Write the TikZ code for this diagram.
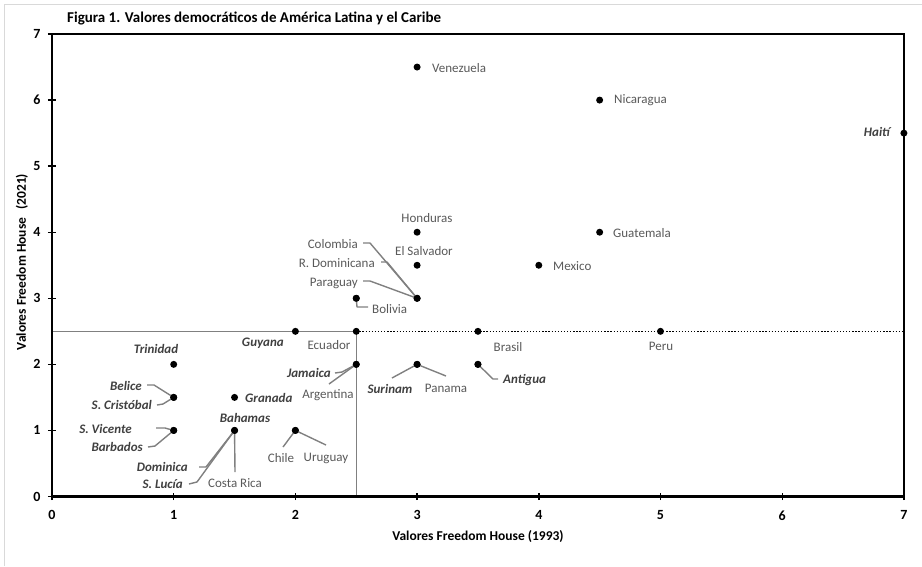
\documentclass[tikz,border=0pt]{standalone}
\usepackage{fontspec}
\setmainfont{Carlito}
\definecolor{lab}{HTML}{595959}
\definecolor{labb}{HTML}{404040}
\definecolor{lead}{HTML}{808080}
\definecolor{frm}{HTML}{D9D9D9}
\begin{document}
\begin{tikzpicture}[x=1pt,y=-1pt,
  dot/.style={circle,fill=black,inner sep=0pt,minimum size=7pt},
  lbl/.style={text=lab,font=\fontsize{13}{15}\selectfont,inner sep=0pt},
  lblb/.style={text=labb,font=\fontsize{13}{15}\selectfont\bfseries\itshape,inner sep=0pt},
  leader/.style={draw=lead,line width=1.4pt,line join=round},
  tlab/.style={font=\fontsize{13.5}{15}\selectfont\bfseries,inner sep=0pt},
  ticklab/.style={font=\fontsize{14}{16}\selectfont\bfseries,inner sep=0pt},
  axis/.style={line width=2.2pt,line cap=rect},
  tick/.style={line width=1.4pt}]
\useasboundingbox (0,0) rectangle (922,566);
% light frame
\draw[frm,line width=1.2pt] (4.5,566) -- (4.5,4.5) -- (922,4.5);
% title and axis labels
\node[tlab,anchor=west,font=\fontsize{15}{17}\selectfont\bfseries] (title) at (67,18) {Figura 1. Valores democráticos de América Latina y el Caribe};
\node[tlab,rotate=90] (ylab) at (22,262) {Valores Freedom House\hspace{0.6em}(2021)};
\node[tlab] (xlab) at (478,537) {Valores Freedom House (1993)};
\begin{scope}[shift={(52,496.5)},x=121.7pt,y=66.07pt]
  % reference lines
  \draw[lead,line width=1pt] (0,2.5) -- (2.5,2.5) -- (2.5,0);
  \draw[black,line width=1.3pt,dash pattern=on 1.3pt off 1.8pt] (2.5,2.5) -- (7,2.5);
  % frame
  \draw[black,line width=1.6pt] (0,7) -- (7,7) -- (7,0);
  \draw[axis] (0,7) -- (0,0) -- (7,0);
  \foreach \i in {0,...,6} \draw[tick] (-0.033,\i) -- (0.033,\i);
  \draw[tick] (-0.033,7) -- (0,7);
  \foreach \i in {1,...,6} \draw[tick] (\i,-0.053) -- (\i,0.053);
  \draw[tick] (0,-0.053) -- (0,0);
  \draw[tick] (7,-0.053) -- (7,0);
  \foreach \i in {0,...,7} {
    \node[ticklab] (xt\i) at (\i,-0.285) {\i};
    \node[ticklab] (yt\i) at (-0.123,\i) {\i};
  }
  % data points
  \node[dot] (ven) at (3,6.5) {};
  \node[dot] (nic) at (4.5,6) {};
  \node[dot] (hai) at (7,5.5) {};
  \node[dot] (hon) at (3,4) {};
  \node[dot] (gua) at (4.5,4) {};
  \node[dot] (els) at (3,3.5) {};
  \node[dot] (mex) at (4,3.5) {};
  \node[dot] (col) at (3,3) {};
  \node[dot] (bol) at (2.5,3) {};
  \node[dot] (guy) at (2,2.5) {};
  \node[dot] (ecu) at (2.5,2.5) {};
  \node[dot] (bra) at (3.5,2.5) {};
  \node[dot] (per) at (5,2.5) {};
  \node[dot] (tri) at (1,2) {};
  \node[dot] (jam) at (2.5,2) {};
  \node[dot] (sur) at (3,2) {};
  \node[dot] (ant) at (3.5,2) {};
  \node[dot] (bel) at (1,1.5) {};
  \node[dot] (gra) at (1.5,1.5) {};
  \node[dot] (svi) at (1,1) {};
  \node[dot] (bah) at (1.5,1) {};
  \node[dot] (chi) at (2,1) {};
\end{scope}
% labels
\node[lbl,anchor=west] (lven) at (432,68) {Venezuela};
\node[lbl,anchor=west] (lnic) at (614,100) {Nicaragua};
\node[lblb,anchor=east] (lhai) at (890,132) {Haití};
\node[lbl] (lhon) at (427,218) {Honduras};
\node[lbl] (lels) at (424,251) {El Salvador};
\node[lbl,anchor=west] (lgua) at (613,233) {Guatemala};
\node[lbl,anchor=west] (lmex) at (553,266) {Mexico};
\node[lbl,anchor=east] (lcol) at (358,244) {Colombia};
\node[lbl,anchor=east] (lrdo) at (375,263) {R. Dominicana};
\node[lbl,anchor=east] (lpar) at (358,283) {Paraguay};
\node[lbl,anchor=west] (lbol) at (372,309) {Bolivia};
\node[lblb,anchor=east] (lguy) at (284,343) {Guyana};
\node[lbl] (lecu) at (329,345) {Ecuador};
\node[lbl] (lbra) at (508,347) {Brasil};
\node[lbl] (lper) at (661,346) {Peru};
\node[lblb] (ltri) at (156,349) {Trinidad};
\node[lblb,anchor=east] (ljam) at (331,373) {Jamaica};
\node[lbl] (larg) at (328,395) {Argentina};
\node[lblb] (lsur) at (390,389) {Surinam};
\node[lbl] (lpan) at (446,388) {Panama};
\node[lblb,anchor=west] (lant) at (503,380) {Antigua};
\node[lblb,anchor=east] (lbel) at (142,386) {Belice};
\node[lblb,anchor=east] (lscr) at (152,405) {S. Cristóbal};
\node[lblb,anchor=west] (lgra) at (245,398) {Granada};
\node[lblb,anchor=east] (lsvi) at (132,429) {S. Vicente};
\node[lblb,anchor=east] (lbar) at (143,447) {Barbados};
\node[lblb] (lbah) at (245,418) {Bahamas};
\node[lblb,anchor=east] (ldom) at (188,467) {Dominica};
\node[lblb,anchor=east] (lslu) at (183,484) {S. Lucía};
\node[lbl] (lcri) at (235,483) {Costa Rica};
\node[lbl] (lchi) at (281,458) {Chile};
\node[lbl] (luru) at (326,458) {Uruguay};
% leader coordinates
\coordinate (c1) at (363,243); \coordinate (c2) at (370,243);
\coordinate (r1) at (381,262); \coordinate (r2) at (387,262);
\coordinate (p1) at (363,281); \coordinate (p2) at (370,281);
\coordinate (b1) at (357,307); \coordinate (b2) at (368,307);
\coordinate (j1) at (335,373); \coordinate (j2) at (342,372);
\coordinate (a1) at (329,384);
\coordinate (s1) at (392,378);
\coordinate (pa1) at (446,376);
\coordinate (an1) at (493,379); \coordinate (an2) at (498,379);
\coordinate (be1) at (147,385); \coordinate (be2) at (154,385);
\coordinate (sc1) at (157,405); \coordinate (sc2) at (163,404);
\coordinate (sv1) at (156,428); \coordinate (sv2) at (165,428);
\coordinate (ba1) at (148,447); \coordinate (ba2) at (155,446);
\coordinate (do1) at (199,467); \coordinate (do2) at (206,467);
\coordinate (sl1) at (189,484); \coordinate (sl2) at (197,482);
\coordinate (cr1) at (235,472);
\coordinate (ch1) at (283,447);
\coordinate (ur1) at (326,445);
% leaders
\draw[leader] (c1) -- (c2) -- (col.center);
\draw[leader] (r1) -- (r2) -- (col.center);
\draw[leader] (p1) -- (p2) -- (col.center);
\draw[leader] (bol.center) -- (b1) -- (b2);
\draw[leader] (j1) -- (j2) -- (jam.center);
\draw[leader] (a1) -- (jam.center);
\draw[leader] (s1) -- (sur.center);
\draw[leader] (pa1) -- (sur.center);
\draw[leader] (ant.center) -- (an1) -- (an2);
\draw[leader] (be1) -- (be2) -- (bel.center);
\draw[leader] (sc1) -- (sc2) -- (bel.center);
\draw[leader] (sv1) -- (sv2) -- (svi.center);
\draw[leader] (ba1) -- (ba2) -- (svi.center);
\draw[leader] (do1) -- (do2) -- (bah.center);
\draw[leader] (sl1) -- (sl2) -- (bah.center);
\draw[leader] (bah.center) -- (cr1);
\draw[leader] (chi.center) -- (ch1);
\draw[leader] (chi.center) -- (ur1);
% redraw dots on top
\foreach \d in {col,bol,jam,sur,ant,bel,svi,bah,chi}
  \fill (\d) circle (3.5pt);
\end{tikzpicture}
\end{document}
